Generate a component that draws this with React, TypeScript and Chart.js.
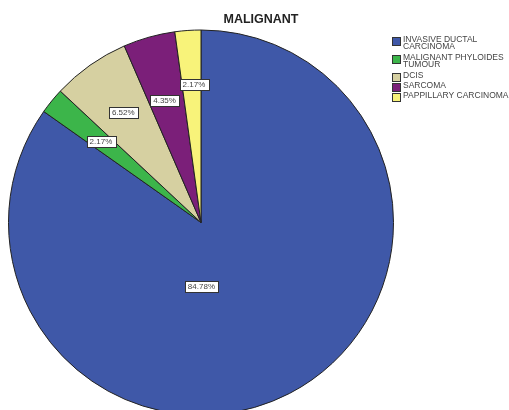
import React, { useEffect, useRef } from "react";
import { Chart, registerables } from "chart.js";

Chart.register(...registerables);

const TITLE = "MALIGNANT";
const CATEGORIES = [
  ["INVASIVE DUCTAL", "CARCINOMA"],
  ["MALIGNANT PHYLOIDES", "TUMOUR"],
  ["DCIS"],
  ["SARCOMA"],
  ["PAPPILLARY CARCINOMA"],
];
const COUNTS = [39, 1, 3, 2, 1];
const PERCENT_LABELS = ["84.78%", "2.17%", "6.52%", "4.35%", "2.17%"];
const COLORS = ["#3F58A8", "#3CB54A", "#D6D0A1", "#7B1F79", "#F8F37A"];

// label anchor: [radius fraction, angle offset in degrees from slice mid-angle]
const LABEL_PLACEMENT: [number, number][] = [
  [0.33, 27],
  [0.67, 0],
  [0.7, 0],
  [0.66, -1],
  [0.72, 1],
];

const overlay = {
  id: "overlay",
  afterDraw(chart: any) {
    const ctx = chart.ctx;
    const meta = chart.getDatasetMeta(0);
    ctx.save();
    // title
    ctx.font = "bold 12.5px Arial, 'Liberation Sans', sans-serif";
    ctx.fillStyle = "#222";
    ctx.textAlign = "center";
    ctx.textBaseline = "middle";
    ctx.fillText(TITLE, 261, 20);

    // percent labels
    ctx.font = "8px Arial, 'Liberation Sans', sans-serif";
    meta.data.forEach((arc: any, i: number) => {
      const p = arc.getProps(["x", "y", "startAngle", "endAngle", "outerRadius"], true);
      const [rf, off] = LABEL_PLACEMENT[i];
      const a = (p.startAngle + p.endAngle) / 2 + (off * Math.PI) / 180;
      const x = p.x + Math.cos(a) * p.outerRadius * rf;
      const y = p.y + Math.sin(a) * p.outerRadius * rf;
      const t = PERCENT_LABELS[i];
      const w = ctx.measureText(t).width + 6;
      const h = 11;
      ctx.fillStyle = "#fff";
      ctx.fillRect(Math.round(x - w / 2) + 0.5, Math.round(y - h / 2) + 0.5, Math.round(w), h);
      ctx.strokeStyle = "#333";
      ctx.lineWidth = 1;
      ctx.strokeRect(Math.round(x - w / 2) + 0.5, Math.round(y - h / 2) + 0.5, Math.round(w), h);
      ctx.fillStyle = "#444";
      ctx.fillText(t, x, y + 0.5);
    });

    // legend
    ctx.textAlign = "left";
    ctx.textBaseline = "middle";
    ctx.font = "8.5px Arial, 'Liberation Sans', sans-serif";
    let y = 37;
    CATEGORIES.forEach((lines, i) => {
      ctx.fillStyle = COLORS[i];
      ctx.fillRect(392.5, y + 0.5, 8, 8);
      ctx.strokeStyle = "#333";
      ctx.lineWidth = 1;
      ctx.strokeRect(392.5, y + 0.5, 8, 8);
      ctx.fillStyle = "#444";
      lines.forEach((ln, j) => {
        ctx.fillText(ln, 403, y + 3 + j * 7);
      });
      y += lines.length > 1 ? 18 : 10;
    });
    ctx.restore();
  },
};

export default function App() {
  const ref = useRef<HTMLCanvasElement>(null);
  useEffect(() => {
    const chart = new Chart(ref.current!, {
      type: "pie",
      data: {
        labels: CATEGORIES.map((l) => l.join(" ")),
        datasets: [
          {
            data: COUNTS,
            backgroundColor: COLORS,
            borderColor: "#222",
            borderWidth: 1,
          },
        ],
      },
      options: {
        responsive: false,
        animation: false,
        devicePixelRatio: 1,
        layout: { padding: { left: 8, top: 29, right: 115, bottom: 4 } },
        plugins: {
          legend: { display: false },
          title: { display: false },
          tooltip: { enabled: false },
        },
      },
      plugins: [overlay],
    });
    return () => chart.destroy();
  }, []);
  return (
    <div style={{ position: "fixed", left: 0, top: 0, background: "#fff" }}>
      <canvas ref={ref} width={509} height={420} style={{ display: "block" }} />
    </div>
  );
}
